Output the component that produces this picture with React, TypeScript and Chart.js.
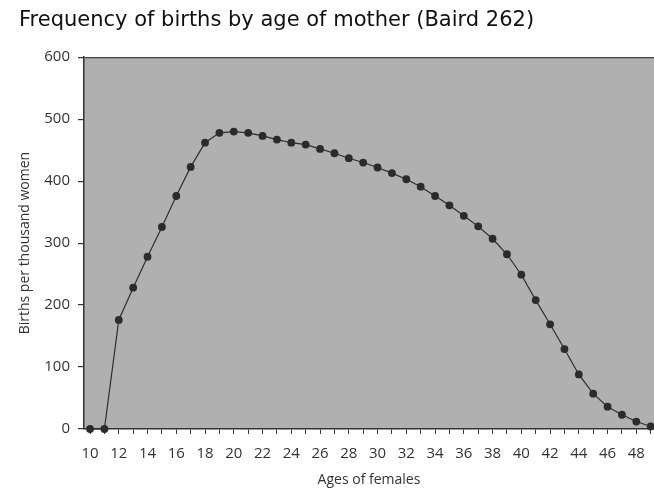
import React, { useEffect, useRef } from "react";
import { Chart, registerables } from "chart.js";

Chart.register(...registerables);

const titleText = "Frequency of births by age of mother (Baird 262)";
const xAxisTitle = "Ages of females";
const yAxisTitle = "Births per thousand women";

const ages = [10, 11, 12, 13, 14, 15, 16, 17, 18, 19, 20, 21, 22, 23, 24, 25, 26, 27, 28, 29, 30, 31, 32, 33, 34, 35, 36, 37, 38, 39, 40, 41, 42, 43, 44, 45, 46, 47, 48, 49];
const births = [0, 0, 176, 228, 278, 326, 376, 423, 462, 478, 480, 478, 473, 467, 462, 459, 452, 445, 437, 430, 422, 413, 403, 391, 376, 361, 344, 327, 307, 282, 249, 208, 169, 129, 88, 57, 36, 23, 12, 4];
const yTicks = [0, 100, 200, 300, 400, 500, 600];

const plotBg = {
  id: "plotBg",
  beforeDraw(chart: any) {
    const { ctx, chartArea } = chart;
    ctx.save();
    ctx.fillStyle = "#b0b0b0";
    ctx.fillRect(chartArea.left, chartArea.top, chartArea.right - chartArea.left, chartArea.bottom - chartArea.top);
    ctx.restore();
  },
};

export default function App() {
  const ref = useRef<HTMLCanvasElement>(null);
  useEffect(() => {
    document.body.style.margin = "0";
    const points = ages.map((a, i) => ({ x: a, y: births[i] }));
    const chart = new Chart(ref.current!, {
      type: "line",
      data: {
        datasets: [
          {
            data: points,
            borderColor: "#2e2e2e",
            borderWidth: 1.2,
            pointRadius: 3.9,
            pointBackgroundColor: "#2b2b2b",
            pointBorderColor: "#2b2b2b",
            pointBorderWidth: 0,
            tension: 0,
            clip: false,
          },
        ],
      },
      options: {
        animation: false,
        responsive: false,
        layout: { autoPadding: false, padding: { left: 19, right: 0, top: 0, bottom: 0 } },
        plugins: {
          legend: { display: false },
          tooltip: { enabled: false },
          title: {
            display: true,
            text: titleText,
            align: "start",
            color: "#111",
            font: { family: "DejaVu Sans", size: 21, weight: "normal" },
            padding: { top: 8, bottom: 24 },
          },
        },
        scales: {
          x: {
            type: "linear",
            min: 9.58,
            max: 49.23,
            afterBuildTicks: (s: any) => {
              s.ticks = ages.map((a) => ({ value: a }));
            },
            afterFit: (s: any) => {
              s.height = 62;
              s.paddingLeft = 0;
              s.paddingRight = 0;
            },
            ticks: {
              autoSkip: false,
              maxRotation: 0,
              color: "#333",
              padding: 11,
              font: { family: "Open Sans", size: 15 },
              callback: (v: any) => (Number(v) % 2 === 0 && Number(v) <= 48 ? String(v) : ""),
            },
            grid: { drawOnChartArea: false, drawTicks: true, tickLength: 5, tickColor: "#333", lineWidth: 1 },
            border: { display: true, color: "#333", width: 1.5 },
            title: {
              display: true,
              text: xAxisTitle,
              color: "#333",
              font: { family: "Open Sans", size: 14 },
              padding: { top: 0, bottom: 3 },
            },
          },
          y: {
            min: 0,
            max: 600,
            afterBuildTicks: (s: any) => {
              s.ticks = yTicks.map((v) => ({ value: v }));
            },
            afterFit: (s: any) => {
              s.width = 65;
            },
            ticks: {
              color: "#333",
              padding: 8,
              font: { family: "Open Sans", size: 15 },
            },
            grid: {
              drawOnChartArea: true,
              drawTicks: true,
              tickLength: 6,
              tickColor: "#333",
              color: (c: any) => (c.tick && c.tick.value === 600 ? "#444" : "rgba(0,0,0,0)"),
              lineWidth: 1.2,
            },
            border: { display: true, color: "#333", width: 1.5 },
            title: {
              display: true,
              text: yAxisTitle,
              color: "#333",
              font: { family: "Open Sans", size: 14 },
              padding: { top: -2, bottom: 0 },
            },
          },
        },
      },
      plugins: [plotBg],
    });
    return () => chart.destroy();
  }, []);
  return (
    <div style={{ width: 654, height: 491, background: "#fff" }}>
      <canvas ref={ref} width={654} height={491} />
    </div>
  );
}
